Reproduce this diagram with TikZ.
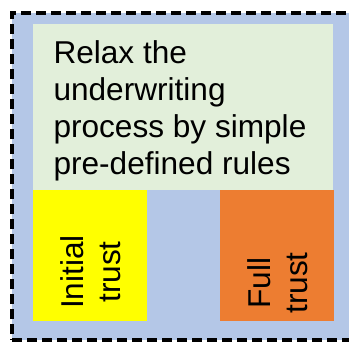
\documentclass[tikz,border=0pt]{standalone}
\usepackage{fontspec}
\setmainfont{Liberation Sans}
\definecolor{panelblue}{HTML}{B4C7E7}
\definecolor{notegreen}{HTML}{E2EFDA}
\definecolor{trustyellow}{HTML}{FFFF00}
\definecolor{trustorange}{HTML}{ED7D31}
\begin{document}
\begin{tikzpicture}[x=1pt,y=-1pt,
  panel/.style={inner sep=0pt, outer sep=0pt, anchor=north west},
  bigtext/.style={font=\fontsize{31.6}{37}\selectfont, inner sep=0pt, outer sep=0pt, text=black}]
\useasboundingbox (0,0) rectangle (349,343);
% dashed outer frame with blue fill
\node[panel, fill=panelblue, draw=black, line width=3.5pt, dash pattern=on 10pt off 5pt,
      minimum width=341pt, minimum height=327pt] (frame) at (12,13) {};
% rule box
\node[panel, fill=notegreen, minimum width=300pt, minimum height=166pt] (rules) at (33,24) {};
\node[bigtext, anchor=north west, align=left] (rulestext) at (53.5,40.3)
  {Relax the\\underwriting\\process by simple\\pre-defined rules};
% trust levels
\node[panel, fill=trustyellow, minimum width=114pt, minimum height=131pt] (initial) at (33,190) {};
\node[panel, fill=trustorange, minimum width=114pt, minimum height=131pt] (full) at (220,190) {};
\node[bigtext, rotate=90, align=center] (initialtext) at (90.3,272) {Initial\\trust};
\node[bigtext, rotate=90, align=center] (fulltext) at (277.5,283) {Full\\trust};
\end{tikzpicture}
\end{document}
